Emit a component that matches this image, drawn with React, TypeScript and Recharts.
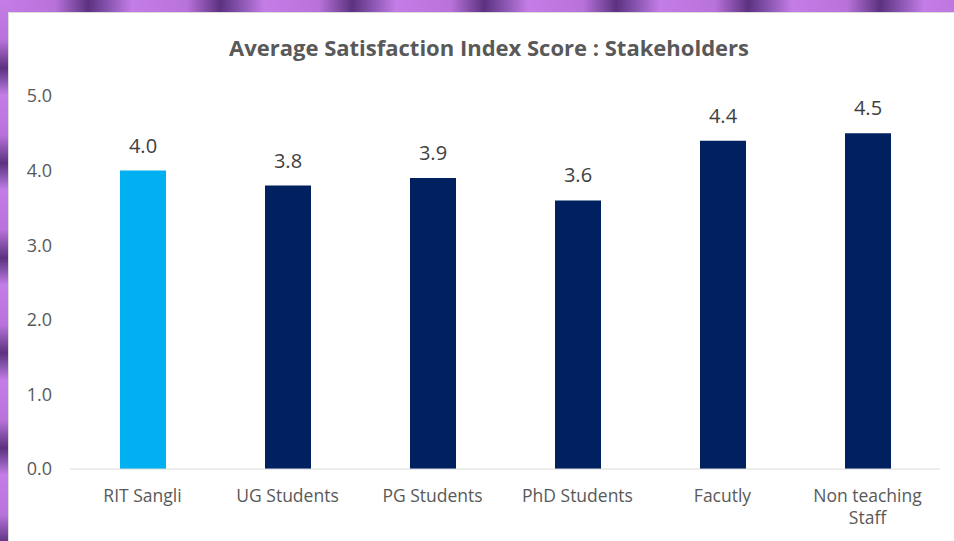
import React from 'react'
import { Bar, BarChart, Cell, LabelList, XAxis, YAxis } from 'recharts'

const categories = [
  'RIT Sangli',
  'UG Students',
  'PG Students',
  'PhD Students',
  'Facutly',
  'Non teaching\nStaff',
]
const scores = [4.0, 3.8, 3.9, 3.6, 4.4, 4.5]
const barColors = ['#00B0F0', '#002060', '#002060', '#002060', '#002060', '#002060']
const yTicks = [0, 1, 2, 3, 4, 5]

const data = categories.map((name, i) => ({ name, value: scores[i] }))

const FONT = '"Open Sans", sans-serif'

// x tick labels, wrapped on '\n'
const XTick = (props: any) => {
  const { x, y, payload } = props
  const lines: string[] = String(payload.value).split('\n')
  return (
    <text x={x} y={y} textAnchor="middle" fill="#595959" fontSize={17.5} fontFamily={FONT}>
      {lines.map((line, i) => (
        <tspan key={i} x={x} dy={i === 0 ? 33 : 22}>
          {line}
        </tspan>
      ))}
    </text>
  )
}

export default function App() {
  return (
    <div style={{ position: 'absolute', left: 0, top: 0, width: 954, height: 541, overflow: 'hidden' }}>
      {/* purple frame */}
      <div
        style={{
          position: 'absolute',
          left: 0,
          top: 0,
          width: 954,
          height: 12,
          background:
            'repeating-linear-gradient(90deg, #c47de6 0px, #b872da 55px, #5c3280 88px, #8c58b4 110px, #c47de6 132px)',
        }}
      />
      <div
        style={{
          position: 'absolute',
          left: 0,
          top: 0,
          width: 8,
          height: 541,
          background:
            'repeating-linear-gradient(180deg, #c47de6 0px, #b872da 40px, #5c3280 68px, #8c58b4 82px, #c47de6 95px)',
        }}
      />
      <div
        style={{
          position: 'absolute',
          left: 8,
          top: 12,
          right: 0,
          bottom: 0,
          background: '#ffffff',
          borderLeft: '1px solid #dcdcdc',
          borderTop: '1px solid #dcdcdc',
        }}
      />
      <div style={{ position: 'absolute', left: 0, top: 0 }}>
        <BarChart
          width={954}
          height={541}
          data={data}
          margin={{ top: 96, right: 14, bottom: 12, left: 0 }}
        >
          <XAxis
            dataKey="name"
            interval={0}
            height={60}
            axisLine={{ stroke: '#d9d9d9', strokeWidth: 1 }}
            tickLine={false}
            tickSize={0}
            tickMargin={0}
            tick={<XTick />}
          />
          <YAxis
            width={70}
            domain={[0, 5]}
            ticks={yTicks}
            axisLine={false}
            tickLine={false}
            tickSize={0}
            tickMargin={18}
            tickFormatter={(v: number) => v.toFixed(1)}
            tick={{ fill: '#595959', fontSize: 18, fontFamily: FONT }}
          />
          <Bar dataKey="value" barSize={46} isAnimationActive={false}>
            {data.map((d, i) => (
              <Cell key={d.name} fill={barColors[i]} />
            ))}
            <LabelList
              dataKey="value"
              position="top"
              offset={18}
              formatter={(v: any) => Number(v).toFixed(1)}
              style={{ fill: '#404040', fontSize: 20, fontFamily: FONT }}
            />
          </Bar>
        </BarChart>
      </div>
      <svg
        width={954}
        height={80}
        style={{ position: 'absolute', left: 0, top: 0, pointerEvents: 'none' }}
      >
        <text
          x={489}
          y={56}
          textAnchor="middle"
          fill="#595959"
          fontSize={22}
          fontWeight="bold"
          fontFamily={FONT}
        >
          Average Satisfaction Index Score : Stakeholders
        </text>
      </svg>
    </div>
  )
}
